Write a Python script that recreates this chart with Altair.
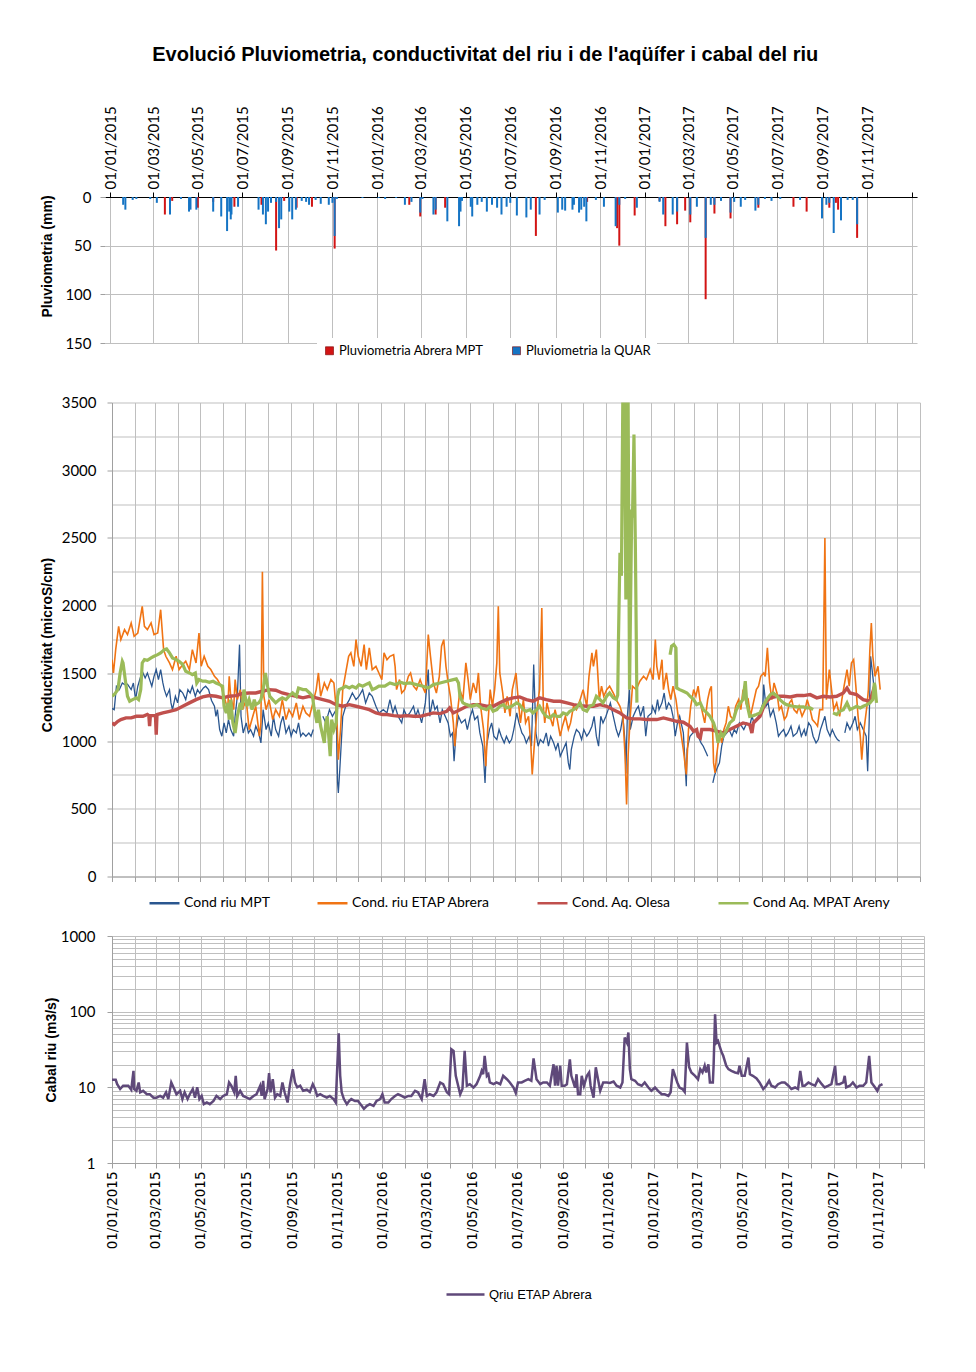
import altair as alt
import pandas as pd

BASE = pd.Timestamp("2015-01-01")
TITLE = "Evolució Pluviometria, conductivitat del riu i de l'aqüífer i cabal del riu"

# ---------------- Pluviometria (day offset from 01/01/2015, mm) ----------------
rain_quar = [(18,8),(21,13),(31,3),(36,2),(55,2),(64,6),(82,18),(97,2),(108,15),(110,13),(118,13),
             (141,15),(152,20),(160,35),(163,15),(165,23),(166,18),(175,10),(203,13),(209,18),(213,28),
             (216,15),(220,6),(227,5),(231,32),(234,23),(245,15),(249,23),(254,13),(262,4),(268,5),(272,8),
             (281,3),(288,7),(299,8),(304,6),(307,40),(310,2),(345,1),(367,1),(376,2),(391,1),(403,8),
             (412,5),(424,16),(427,2),(442,18),(445,13),(461,25),(477,30),(479,15),(481,4),(493,10),(495,20),
             (502,8),(508,5),(515,15),(522,8),(529,11),(535,18),(542,10),(547,6),(556,19),(569,21),(575,13),
             (587,18),(594,3),(612,16),(618,13),(622,14),(632,13),(634,8),(641,16),(644,13),(648,10),(651,25),
             (664,3),(675,10),(691,30),(696,8),(704,2),(720,11),(751,5),(756,18),(769,18),(775,15),(793,18),
             (802,10),(814,42),(821,8),(826,8),(835,4),(848,16),(853,5),(862,10),(868,3),(882,14),(886,8),
             (895,2),(904,4),(916,2),(943,3),(973,22),(979,8),(983,6),(989,37),(999,24),(1008,3),(1015,3),(1021,28)]
rain_mpt = [(75,18),(85,4),(120,11),(141,5),(170,10),(207,8),(227,55),(238,4),(255,11),(276,10),(307,53),
            (409,8),(424,20),(445,18),(458,11),(582,40),(652,5),(693,32),(696,50),(717,19),(751,4),(759,30),
            (775,28),(786,14),(793,26),(814,105),(826,17),(848,22),(886,11),(934,10),(952,15),(983,11),(992,6),
            (995,13),(1021,42)]

# ---------------- Conductivitat (day offset, microS/cm) ----------------
cond_mpt = [(0,1240),(3,1232),(6,1405),(10,1380),(14,1429),(17,1417),(21,1420),(26,1380),(29,1429),(32,1306),
            (35,1405),(39,1478),(42,1503),(45,1466),(48,1503),(51,1454),(54,1405),(57,1478),(60,1528),(63,1454),
            (66,1528),(69,1429),(71,1380),(74,1331),(78,1380),(80,1282),(82,1232),(86,1331),(89,1282),(92,1380),
            (96,1355),(100,1306),(103,1380),(106,1355),(109,1405),(113,1331),(116,1380),(119,1355),(124,1392),
            (127,1405),(131,1380),(135,1300),(139,1257),(141,1183),(143,1232),(146,1085),(149,1036),(152,1134),
            (155,1060),(158,1159),(161,1085),(165,1036),(167,1183),(170,1331),(173,1712),(175,1183),(178,1060),
            (182,1134),(185,1060),(188,1085),(192,1036),(195,1110),(199,1060),(202,987),(205,1232),(209,1085),
            (212,1134),(216,1036),(219,1183),(222,1085),(226,1036),(229,1134),(232,1183),(236,1060),(240,1110),
            (243,1036),(246,1085),(250,1060),(253,1134),(256,1036),(259,1060),(263,1036),(267,1060),(270,1036),
            (273,1085),(276,None),(286,1183),(290,1134),(295,1232),(299,1183),(304,1232),(306,691),(307,617),
            (309,790),(313,1183),(317,1257),(322,1306),(326,1355),(331,1306),(335,1331),(340,1380),(344,1282),
            (349,1355),(353,1331),(358,1257),(362,1208),(368,1232),(373,1208),(377,1306),(381,1208),(384,1257),
            (388,1183),(393,1134),(396,1232),(400,1183),(404,1208),(409,1257),(412,1183),(415,1232),(420,1134),
            (425,1282),(429,1528),(431,1183),(435,1306),(438,1232),(441,1257),(445,1134),(448,1232),(452,1183),
            (456,1134),(459,1036),(462,1060),(464,851),(467,1085),(470,1183),(474,1134),(479,1159),(482,1085),
            (486,1183),(489,1232),(492,1159),(496,1183),(499,1060),(503,962),(506,691),(508,962),(512,1085),
            (515,1134),(518,1036),(522,1011),(525,1085),(528,1036),(532,987),(535,1036),(539,987),(542,1011),
            (545,1085),(549,1208),(552,1134),(556,1060),(559,1036),(562,987),(566,1036),(569,962),(572,1565),
            (575,1060),(578,962),(581,1011),(585,987),(589,1060),(592,962),(595,1036),(599,987),(602,937),
            (605,987),(608,888),(612,937),(616,987),(619,839),(621,790),(623,937),(627,1036),(630,1085),
            (634,1060),(637,1011),(640,1085),(644,1036),(647,1060),(651,1110),(654,1183),(657,1036),(660,962),
            (663,1183),(666,1134),(670,1183),(673,1232),(676,1282),(680,1183),(684,1085),(687,1036),(690,1085),
            (693,1183),(696,987),(697,760),(699,1183),(702,1380),(703,1085),(707,1183),(711,1232),(714,1257),
            (717,1183),(721,1257),(724,1036),(727,1183),(732,1208),(733,1257),(737,1208),(740,1306),(742,1232),
            (746,1282),(749,1355),(752,1232),(755,1282),(758,1257),(761,1183),(764,1036),(767,1134),(770,1183),
            (775,1060),(779,667),(780,937),(784,1036),(788,1060),(791,1085),(795,1036),(799,987),(802,962),
            (806,913),(808,888),(810,None),(815,691),(817,740),(820,790),(824,839),(827,962),(830,1036),
            (834,1060),(837,1085),(841,1036),(844,1085),(847,1060),(851,1134),(854,1110),(857,1085),(861,1134),
            (865,1110),(868,1183),(871,1134),(874,1159),(877,1183),(880,1232),(883,1282),(884,1417),(887,1257),
            (890,1282),(893,1183),(897,1232),(901,1134),(904,1036),(907,1060),(911,1085),(914,1036),(917,1060),
            (921,1110),(924,1036),(929,1060),(932,1110),(935,1036),(939,1085),(941,1036),(945,1134),(948,1110),
            (951,1036),(955,987),(958,1011),(961,1085),(964,1134),(967,1183),(970,1085),(974,1036),(977,1085),
            (981,1036),(984,1011),(987,999),(990,None),(994,1060),(997,1134),(1001,1085),(1005,1134),(1008,1183),
            (1011,1085),(1015,1134),(1019,1085),(1023,1036),(1025,777),(1027,1134),(1029,1626),(1031,1528),
            (1034,1380),(1036,1331)]

cond_etap = [(0,1601),(2,1503),(5,1675),(9,1847),(12,1749),(17,1823),(21,1786),(26,1872),(30,1774),(35,1798),
             (41,1995),(44,1847),(48,1823),(53,1872),(57,1786),(62,1798),(66,1970),(70,1675),(73,1626),(78,1577),
             (82,1528),(87,1626),(91,1528),(96,1565),(100,1589),(105,1528),(109,1675),(114,1577),(118,1798),
             (121,1552),(125,1626),(130,1552),(134,1528),(139,1478),(143,1454),(148,1405),(152,1331),(157,1232),
             (159,1478),(161,1331),(165,1232),(167,1454),(170,1306),(174,1380),(177,1232),(182,1306),(186,1085),
             (191,1183),(195,1257),(200,1036),(202,1134),(204,2250),(206,1331),(209,1232),(213,1306),(218,1159),
             (222,1232),(227,1183),(231,1306),(236,1159),(240,1232),(245,1183),(250,1282),(254,1159),(259,1257),
             (263,1208),(268,1183),(272,1270),(277,1380),(280,1503),(283,1331),(288,1429),(292,1380),(297,1454),
             (301,1429),(305,1183),(307,863),(310,1085),(313,1380),(317,1503),(321,1626),(324,1651),(328,1552),
             (331,1749),(334,1626),(338,1552),(342,1712),(345,1528),(349,1688),(353,1528),(358,1552),(362,1503),
             (366,1454),(369,1651),(373,1601),(377,1626),(382,1638),(384,1552),(386,1380),(390,1454),(393,1355),
             (397,1380),(402,1478),(405,1503),(409,1405),(413,1380),(418,1454),(421,1405),(425,1355),(429,1786),
             (432,1626),(436,1429),(440,1355),(444,1478),(447,1700),(450,1749),(453,1552),(456,1429),(459,1331),
             (463,1134),(465,962),(468,1183),(472,1380),(476,1306),(480,1577),(483,1454),(486,1306),(490,1429),
             (494,1355),(497,1503),(500,1257),(504,1085),(507,814),(510,1134),(513,1380),(516,1257),(519,1380),
             (522,1577),(524,1995),(526,1503),(530,1355),(533,1208),(536,1331),(540,1183),(543,1380),(548,1503),
             (551,1306),(554,1134),(558,1306),(561,1134),(565,1183),(568,987),(570,753),(574,1060),(577,1257),
             (580,1380),(583,1983),(585,1257),(587,1134),(590,1282),(594,1183),(598,1110),(601,1232),(604,1159),
             (608,1036),(611,1110),(615,1183),(619,1085),(622,1134),(626,1257),(630,1232),(635,1306),(639,1380),
             (644,1257),(647,1478),(651,1651),(653,1552),(657,1675),(661,1306),(664,1405),(667,1331),(671,1380),
             (675,1405),(680,1355),(684,1306),(689,1257),(693,1183),(696,888),(698,531),(700,888),(703,1183),
             (706,1405),(711,1380),(716,1442),(721,1478),(725,1454),(730,1528),(734,1454),(737,1749),(739,1552),
             (742,1454),(746,1601),(748,1380),(752,1503),(755,1380),(758,1306),(761,1405),(765,1306),(768,1183),
             (771,1085),(775,937),(779,753),(782,1085),(785,1257),(789,1380),(792,1331),(795,1405),(798,1282),
             (801,1208),(804,1134),(808,1306),(811,1380),(813,1405),(816,839),(818,765),(820,888),(824,1060),
             (827,987),(830,1085),(833,1134),(836,1257),(839,1183),(843,1159),(846,1257),(850,1306),(853,1232),
             (856,1380),(860,1282),(863,1306),(866,1183),(870,1282),(874,1380),(877,1405),(880,1478),(884,1503),
             (886,1478),(889,1688),(892,1429),(895,1306),(898,1429),(902,1355),(905,1232),(908,1257),(912,1159),
             (915,1183),(919,1282),(922,1306),(925,1232),(929,1208),(932,1257),(936,1183),(940,1232),(943,1306),
             (947,1232),(950,1159),(954,1134),(957,1110),(960,1232),(964,1232),(967,2500),(969,1306),(973,1528),
             (976,1380),(979,1232),(983,1282),(987,1183),(990,1306),(993,1405),(997,1528),(1000,1405),(1003,1577),
             (1006,1601),(1009,1405),(1012,1183),(1015,1036),(1017,863),(1020,1085),(1024,1257),(1026,1380),
             (1028,1675),(1030,1872),(1032,1626),(1035,1478),(1039,1552),(1042,1380)]

cond_olesa = [(0,1134),(3,1122),(8,1146),(12,1159),(19,1171),(26,1171),(33,1183),(42,1183),(48,1196),(50,1188),
              (51,1110),(52,1188),(57,1188),(59,1188),(60,1048),(61,1196),(69,1208),(78,1220),(87,1232),
              (96,1257),(105,1282),(114,1306),(123,1326),(132,1336),(141,1331),(150,1319),(159,1331),(168,1336),
              (177,1351),(186,1355),(195,1355),(204,1368),(213,1380),(222,1375),(231,1355),(240,1343),(250,1331),
              (259,1319),(268,1331),(277,1319),(286,1306),(295,1294),(304,1269),(313,1257),(322,1269),(331,1257),
              (340,1245),(349,1232),(358,1208),(367,1196),(373,1196),(382,1188),(391,1183),(400,1188),(409,1183),
              (418,1183),(427,1196),(436,1208),(445,1203),(454,1220),(458,1245),(463,1208),(472,1232),(481,1257),
              (490,1269),(499,1269),(508,1257),(517,1257),(526,1282),(535,1306),(544,1319),(553,1326),(562,1306),
              (571,1294),(580,1319),(589,1306),(599,1294),(608,1294),(617,1282),(626,1269),(635,1262),(644,1257),
              (653,1257),(662,1269),(671,1257),(680,1232),(689,1208),(698,1171),(707,1164),(716,1164),(725,1159),
              (730,1159),(739,1159),(748,1171),(757,1159),(766,1146),(775,1139),(784,1110),(789,1073),(793,1085),
              (795,1036),(798,1023),(800,1085),(802,1085),(811,1085),(820,1073),(829,1060),(838,1085),(847,1110),
              (856,1134),(865,1122),(868,1060),(870,1134),(879,1183),(886,1282),(893,1319),(902,1331),(911,1331),
              (920,1326),(929,1336),(938,1336),(947,1343),(956,1319),(965,1331),(974,1326),(983,1331),(992,1355),
              (997,1392),(1001,1355),(1010,1343),(1019,1306),(1028,1294),(1033,1380),(1035,1355)]

cond_areny = [(0,1331),(3,1343),(8,1380),(11,1503),(14,1589),(15,1577),(18,1454),(21,1331),(24,1294),(28,1306),
              (33,1319),(36,1306),(39,1380),(41,1577),(44,1601),(48,1596),(53,1614),(57,1626),(62,1638),(66,1651),
              (71,1675),(74,1680),(78,1651),(82,1614),(87,1601),(91,1589),(96,1565),(100,1515),(105,1503),
              (109,1491),(113,1503),(115,1429),(118,1454),(123,1442),(127,1442),(132,1434),(137,1442),(141,1429),
              (146,1417),(150,1405),(152,1257),(155,1208),(157,1282),(159,1159),(161,1306),(164,1134),(167,1060),
              (170,1183),(174,1282),(176,1232),(179,1380),(183,1257),(186,1306),(190,1232),(193,1306),(195,1269),
              (199,1282),(202,1306),(205,1380),(208,1503),(211,1405),(214,1331),(218,1306),(222,1282),(227,1306),
              (231,1319),(236,1306),(240,1331),(245,1355),(250,1331),(253,1392),(259,1380),(263,1380),(268,1355),
              (272,1331),(274,1245),(278,1134),(280,1232),(283,1110),(286,1036),(288,987),(290,1134),(292,1183),
              (296,888),(298,1159),(301,1085),(304,1134),(306,1331),(308,1380),(313,1392),(317,1405),(322,1392),
              (326,1405),(331,1392),(335,1417),(340,1405),(344,1417),(349,1429),(353,1380),(358,1392),(362,1405),
              (370,1405),(377,1429),(384,1417),(391,1434),(397,1424),(404,1429),(413,1417),(422,1405),(429,1392),
              (436,1417),(445,1429),(454,1442),(463,1454),(467,1459),(470,1429),(472,1331),(476,1282),(481,1269),
              (488,1257),(495,1269),(501,1245),(508,1232),(513,1257),(517,1220),(522,1232),(526,1257),(531,1269),
              (535,1245),(542,1257),(549,1282),(553,1269),(558,1232),(562,1220),(567,1232),(571,1208),(576,1232),
              (580,1257),(585,1208),(589,1183),(594,1171),(599,1196),(603,1183),(608,1183),(612,1208),(617,1196),
              (621,1220),(626,1232),(630,1245),(635,1282),(639,1232),(644,1220),(648,1257),(653,1269),(657,1331),
              (662,1306),(666,1282),(671,1331),(675,1355),(680,1319),(684,1306),(686,1340),(687,1750),(689,2390),
              (691,2220),(693,3600),(695,3600),(697,2045),(699,3600),(700,3600),(702,1380),(705,2710),(706,2650),
              (708,3264),(710,2400),(712,1284),(714,None),(757,1638),(759,1700),(762,1712),(765,1688),(766,1392),
              (770,1380),(775,1368),(780,1355),(784,1331),(789,1306),(793,1269),(798,1282),(802,1232),(807,1208),
              (811,1183),(816,1134),(820,1060),(822,987),(826,1060),(829,1036),(834,1085),(838,1134),(843,1159),
              (847,1232),(852,1282),(856,1306),(859,1442),(861,1282),(865,1183),(870,1188),(874,1196),(879,1208),
              (883,1257),(888,1306),(893,1343),(897,1355),(902,1331),(906,1306),(911,1282),(915,1269),(920,1262),
              (924,1257),(929,1252),(933,1252),(938,1252),(942,1245),(947,1245),(951,1232),(960,None),(978,1208),
              (983,1196),(987,1220),(992,1232),(997,1282),(1001,1232),(1006,1245),(1010,1257),(1015,1245),
              (1019,1257),(1024,1269),(1028,1282),(1032,1306),(1034,1429),(1035,1405),(1037,1282)]

# ---------------- Cabal riu (day offset, m3/s) ----------------
qriu = [(0,12.6),(5,12.6),(7,11.0),(11,9.5),(15,10.5),(22,10.5),(26,9.3),(29,16.5),(30,9.5),(33,9.0),(36,11.6),
        (38,8.6),(42,9.0),(47,8.1),(51,8.1),(56,7.3),(60,7.3),(65,7.7),(69,7.3),(73,8.6),(76,7.0),(80,11.6),
        (84,9.5),(87,8.1),(92,9.0),(95,7.0),(98,8.6),(102,7.0),(105,8.1),(109,9.5),(112,7.3),(115,10.0),(118,7.0),
        (121,7.7),(124,6.0),(128,6.3),(132,6.0),(137,6.6),(141,7.7),(146,7.0),(150,7.7),(155,8.1),(158,11.6),
        (161,10.5),(165,8.6),(167,14.2),(169,7.7),(173,9.0),(177,7.7),(182,7.3),(186,7.0),(191,7.7),(195,8.1),
        (200,10.5),(202,7.7),(204,12.2),(206,7.0),(210,9.5),(212,15.4),(214,8.6),(217,12.8),(220,7.3),(223,8.1),
        (227,7.7),(230,11.6),(233,8.6),(237,6.3),(240,10.5),(244,17.4),(247,11.6),(250,10.0),(254,10.5),(258,9.0),
        (263,9.3),(267,8.7),(271,11.0),(274,9.5),(277,7.7),(281,8.1),(285,7.7),(290,7.3),(294,7.7),(299,7.0),
        (302,6.3),(306,51.9),(308,14.2),(310,8.6),(313,7.0),(317,6.0),(320,6.6),(323,7.0),(328,6.6),(332,6.6),
        (337,5.7),(340,5.2),(344,5.7),(348,6.0),(353,5.7),(357,6.6),(362,7.0),(365,8.1),(368,6.3),(373,6.3),
        (377,7.0),(382,7.7),(386,8.1),(391,7.7),(395,7.3),(400,7.7),(404,7.7),(409,9.0),(413,8.6),(418,7.0),
        (422,12.8),(425,7.7),(429,8.1),(434,7.7),(438,8.6),(443,11.6),(447,11.0),(452,8.6),(455,8.1),(458,31.9),
        (461,30.3),(464,14.2),(470,8.1),(473,9.5),(476,30.3),(479,10.5),(483,11.0),(488,9.95),(492,11.0),
        (497,14.2),(499,16.5),(501,14.9),(503,26.1),(506,14.2),(508,14.9),(510,11.6),(515,11.0),(519,11.6),
        (524,11.0),(528,14.2),(533,12.8),(537,11.6),(542,9.95),(545,8.4),(548,11.6),(553,11.6),(557,12.2),
        (562,12.8),(566,12.2),(569,24.1),(573,12.8),(578,11.0),(582,11.6),(587,11.6),(591,10.5),(596,20.2),
        (598,10.5),(600,19.3),(602,10.5),(605,19.3),(607,10.5),(611,10.5),(614,11.0),(618,23.4),(620,14.2),
        (625,9.95),(627,14.9),(629,8.1),(632,8.1),(634,14.2),(637,10.5),(641,14.2),(644,15.7),(646,10.5),
        (650,7.3),(653,18.4),(656,12.8),(659,9.0),(663,11.6),(668,11.6),(672,11.4),(677,11.9),(681,10.5),
        (686,9.95),(689,11.6),(692,45.5),(695,39.0),(697,53.0),(699,17.4),(701,12.8),(706,12.2),(710,11.0),
        (715,10.5),(719,11.6),(724,9.95),(728,9.0),(733,9.95),(737,9.0),(742,8.1),(746,8.1),(751,7.7),(754,8.6),
        (757,17.4),(760,14.2),(763,11.6),(766,9.95),(770,9.5),(773,8.7),(776,39.0),(779,18.4),(782,15.7),
        (787,14.2),(791,12.8),(794,17.4),(797,15.7),(800,19.3),(802,15.7),(805,20.2),(807,11.6),(811,11.6),
        (812,19.3),(814,92.5),(816,39.0),(818,41.0),(820,35.3),(823,28.8),(825,26.1),(829,19.3),(832,17.4),
        (836,16.5),(841,15.7),(845,15.4),(847,19.3),(850,14.2),(854,14.2),(859,24.8),(861,14.9),(865,14.2),
        (870,13.1),(874,11.6),(879,9.5),(883,10.5),(887,12.2),(890,10.5),(895,9.95),(899,11.0),(904,11.6),
        (908,11.6),(913,10.5),(917,9.5),(922,9.95),(926,9.5),(929,16.5),(932,10.5),(935,10.5),(940,11.6),
        (944,11.0),(949,10.5),(953,12.8),(958,11.0),(962,9.95),(967,10.5),(971,11.0),(976,19.3),(978,11.0),
        (982,11.0),(987,11.6),(989,14.2),(991,9.95),(996,10.5),(1000,11.6),(1005,9.95),(1009,10.5),(1014,10.5),
        (1018,11.6),(1022,26.1),(1025,11.6),(1030,9.95),(1033,9.0),(1036,10.5),(1040,11.0)]

RAIN_NAMES = ["Pluviometria Abrera MPT", "Pluviometria la QUAR"]
RAIN_COLORS = ["#D21414", "#1574C4"]
COND_NAMES = ["Cond riu MPT", "Cond. riu ETAP Abrera", "Cond. Aq. Olesa", "Cond Aq. MPAT Areny"]
COND_COLORS = ["#2A568F", "#F07414", "#C0504D", "#9BBB59"]
Q_NAME = ["Qriu ETAP Abrera"]
Q_COLOR = ["#5F497A"]

GRID = "#BFBFBF"
AXC = "#A0A0A0"
CAL = "Lato"
ARIAL = "Liberation Sans"


def frame(pairs, name, col="serie"):
    return pd.DataFrame({
        "date": [(BASE + pd.Timedelta(days=int(d))).strftime("%Y-%m-%dT00:00:00") for d, _ in pairs],
        "value": [v for _, v in pairs],
        col: name,
    })


def dt(y, m):
    return alt.DateTime(year=y, month=m, date=1)


months = [(y, m) for y in (2015, 2016, 2017) for m in range(1, 13)] + [(2018, 1)]
month_vals = [dt(y, m) for y, m in months]
two_month_vals = [dt(y, m) for y, m in months if m % 2 == 1]
DOMAIN = [dt(2015, 1), dt(2018, 1)]

# ---------------- top panel ----------------
rain_color = alt.Color("rserie:N", scale=alt.Scale(domain=RAIN_NAMES, range=RAIN_COLORS),
                       legend=alt.Legend(orient="none", legendX=205, legendY=141, direction="horizontal",
                                         title=None, symbolType="square", symbolSize=64,
                                         symbolStrokeColor="#7a0000", symbolStrokeWidth=0.6,
                                         labelFont=CAL, labelFontSize=13, labelColor="black",
                                         labelOffset=3, columnPadding=26, padding=6, fillColor="white"))
x_top = alt.X("date:T", scale=alt.Scale(domain=DOMAIN, range=[-7, 805]),
              axis=alt.Axis(orient="top", values=two_month_vals, title=None,
                            labelExpr="year(datum.value) < 2018 ? timeFormat(datum.value, '%d/%m/%Y') : ''",
                            labelAngle=-90, labelFont=CAL, labelFontSize=15, labelColor="black",
                            labelPadding=3, tickSize=5, tickColor="black", domainColor="black",
                            labelOverlap=False, labelFlush=False, gridColor=GRID))
y_top = alt.Y("value:Q", scale=alt.Scale(domain=[0, 150], reverse=True),
              axis=alt.Axis(values=[0, 50, 100, 150], title="Pluviometria (mm)", offset=7,
                            titleFont=ARIAL, titleFontSize=14, titleFontWeight="bold",
                            titleColor="black", titleX=-58, titleY=59, titleAlign="center",
                            titleBaseline="middle",
                            labelFont=CAL, labelFontSize=15, labelColor="black", labelPadding=9,
                            tickSize=5, tickColor=AXC, domain=False, gridColor=GRID))

bars_mpt = alt.Chart(frame(rain_mpt, RAIN_NAMES[0], "rserie")).mark_bar(size=2).encode(
    x=x_top, y=y_top, color=rain_color)
bars_quar = alt.Chart(frame(rain_quar, RAIN_NAMES[1], "rserie")).mark_bar(size=2).encode(
    x=x_top, y=y_top, color=rain_color)
top = alt.layer(bars_mpt, bars_quar).properties(width=805, height=146)

# ---------------- middle panel ----------------
cond_color = alt.Color("serie:N", scale=alt.Scale(domain=COND_NAMES, range=COND_COLORS),
                       legend=alt.Legend(orient="none", legendX=36, legendY=484, direction="horizontal",
                                         title=None, symbolType="stroke", symbolSize=900, symbolStrokeWidth=2.5,
                                         labelFont=CAL, labelFontSize=14, labelColor="black",
                                         labelOffset=3, columnPadding=42, padding=0))
x_mid = alt.X("date:T", scale=alt.Scale(domain=DOMAIN),
              axis=alt.Axis(values=month_vals, labels=False, title=None, tickSize=5, tickColor=AXC,
                            domainColor=AXC, gridColor=GRID))
y_mid = alt.Y("value:Q", scale=alt.Scale(domain=[0, 3500]),
              axis=alt.Axis(values=list(range(0, 3501, 250)), format="d",
                            labelExpr="datum.value % 500 == 0 ? datum.label : ''",
                            tickOpacity={"condition": {"test": "datum.value % 500 == 0", "value": 1}, "value": 0},
                            title="Conductivitat (microS/cm)", titleFont=ARIAL, titleFontSize=14,
                            titleFontWeight="bold", titleColor="black", titleX=-65, titleY=242,
                            titleAlign="center", titleBaseline="middle",
                            labelFont=CAL, labelFontSize=15, labelColor="black", labelPadding=11,
                            tickSize=5, tickColor=AXC, domainColor=AXC, gridColor=GRID))
widths = [1.3, 1.6, 3.4, 3.2]
cond_series = [cond_mpt, cond_etap, cond_olesa, cond_areny]
mid_layers = [
    alt.Chart(frame(s, n)).mark_line(strokeWidth=w, clip=True, invalid="break-paths-show-domains").encode(
        x=x_mid, y=y_mid, color=cond_color)
    for s, n, w in zip(cond_series, COND_NAMES, widths)
]
mid = alt.layer(*mid_layers).properties(width=808, height=474)

# ---------------- bottom panel ----------------
log_vals = [m * 10 ** k for k in range(3) for m in range(1, 10)] + [1000]
q_color = alt.Color("qserie:N", scale=alt.Scale(domain=Q_NAME, range=Q_COLOR),
                    legend=alt.Legend(orient="none", legendX=333, legendY=338, direction="horizontal",
                                      title=None, symbolType="stroke", symbolSize=1444, symbolStrokeWidth=2.5,
                                      labelFont=ARIAL, labelFontSize=13, labelColor="black",
                                      labelOffset=3, padding=0))
x_bot = alt.X("date:T", scale=alt.Scale(domain=DOMAIN),
              axis=alt.Axis(values=month_vals, title=None,
                            labelExpr="month(datum.value) % 2 == 0 && year(datum.value) < 2018 ? timeFormat(datum.value, '%d/%m/%Y') : ''",
                            labelAngle=-90, labelFont="DejaVu Sans", labelFontSize=13.5, labelColor="black",
                            labelPadding=3, labelOverlap=False, labelFlush=False,
                            tickSize=5, tickColor=AXC, domainColor=AXC, gridColor=GRID))
y_bot = alt.Y("value:Q", scale=alt.Scale(type="log", domain=[1, 1000]),
              axis=alt.Axis(values=log_vals,
                            labelExpr="indexof([1,10,100,1000], datum.value) >= 0 ? format(datum.value, 'd') : ''",
                            tickOpacity={"condition": {"test": "indexof([1,10,100,1000], datum.value) >= 0", "value": 1}, "value": 0},
                            title="Cabal riu (m3/s)", titleFont=ARIAL, titleFontSize=14,
                            titleFontWeight="bold", titleColor="black", titleX=-61, titleBaseline="middle",
                            labelFont=CAL, labelFontSize=15, labelColor="black", labelPadding=12,
                            tickSize=5, tickColor=AXC, domainColor=AXC, gridColor=GRID))
bot = alt.Chart(frame(qriu, Q_NAME[0], "qserie")).mark_line(strokeWidth=2.5, clip=True).encode(
    x=x_bot, y=y_bot, color=q_color).properties(width=812, height=227)

chart = alt.vconcat(top, mid, bot, spacing=59.5, bounds="flush").resolve_scale(
    color="independent", x="independent", y="independent"
).resolve_legend(color="independent").properties(
    title=alt.TitleParams(TITLE, font=ARIAL, fontSize=20, fontWeight="bold", anchor="middle",
                          frame="bounds", offset=40.5, color="black"),
    padding={"left": 32, "top": 37, "right": 10, "bottom": 10},
    autosize=alt.AutoSizeParams(type="pad"),
).configure_view(stroke=None)

chart.save("out.html", embed_options={"renderer": "svg", "actions": False})
